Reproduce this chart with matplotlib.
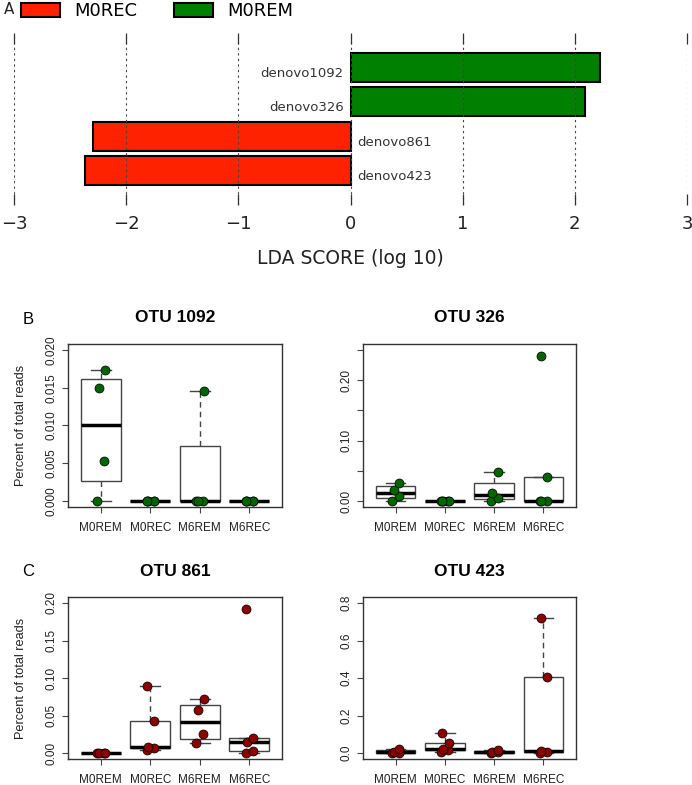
import numpy as np
import matplotlib
matplotlib.use('Agg')
import matplotlib.pyplot as plt
from matplotlib.patches import Patch

# Panel A: LDA scores (bottom to top)
otu_names = ['denovo423', 'denovo861', 'denovo326', 'denovo1092']
lda_scores = [-2.37, -2.30, 2.09, 2.22]
lda_groups = ['M0REC', 'M0REC', 'M0REM', 'M0REM']
legend_groups = ['M0REC', 'M0REM']
group_colors = {'M0REC': '#ff2200', 'M0REM': '#008000'}
lda_ticks = [-3, -2, -1, 0, 1, 2, 3]

# Panels B/C: percent of total reads per sample
box_groups = ['M0REM', 'M0REC', 'M6REM', 'M6REC']
otu1092 = [[0, 0.00534, 0.01492, 0.01735], [0, 0, 0, 0, 0],
           [0, 0, 0, 0.01452], [0, 0, 0, 0, 0]]
otu326 = [[0, 0.0083, 0.0183, 0.0299], [0, 0, 0, 0, 0],
          [0, 0.0056, 0.0132, 0.0476], [0, 0, 0, 0.0393, 0.240]]
otu861 = [[0, 0, 0.0003, 0.0006], [0.004, 0.007, 0.008, 0.043, 0.090],
          [0.013, 0.025, 0.057, 0.072], [0, 0.003, 0.015, 0.0195, 0.192]]
otu423 = [[0, 0.002, 0.008, 0.019], [0.007, 0.016, 0.021, 0.055, 0.105],
          [0, 0.004, 0.007, 0.014], [0, 0.005, 0.009, 0.403, 0.722]]

W, H = 692, 785
fig = plt.figure(figsize=(W / 100, H / 100), dpi=100)

# ---------------- panel A ----------------
axA = fig.add_axes([14 / W, 1 - 205 / H, 673 / W, 172 / H])
ypos = np.arange(len(otu_names))
axA.barh(ypos, lda_scores, height=0.85,
         color=[group_colors[g] for g in lda_groups],
         edgecolor='black', linewidth=1.5, zorder=1)
for y, s, name in zip(ypos, lda_scores, otu_names):
    if s > 0:
        axA.text(-0.06, y - 0.17, name, ha='right', va='center', fontsize=9.5, color='#333')
    else:
        axA.text(0.06, y - 0.17, name, ha='left', va='center', fontsize=9.5, color='#333')
axA.set_xlim(-3, 3)
axA.set_ylim(-1, 4)
axA.set_xticks(lda_ticks)
axA.set_xticklabels([str(t).replace('-', '\u2212') for t in lda_ticks], fontsize=13, color='#222')
axA.set_yticks([])
for sp in axA.spines.values():
    sp.set_visible(False)
axA.tick_params(axis='x', direction='in', top=True, length=8, width=0.9, color='#333', pad=7)
axA.set_axisbelow(False)
axA.grid(axis='x', linestyle=(0, (2, 3)), linewidth=0.8, color='#444', zorder=3)
axA.set_xlabel('LDA SCORE (log 10)', fontsize=13.5, color='#222')
axA.xaxis.set_label_coords(0.5, -(259 - 205) / 172)
axA.xaxis.label.set_va('center')

fig.legend(handles=[Patch(facecolor=group_colors[g], edgecolor='black', linewidth=1.5, label=g)
                    for g in legend_groups],
           loc='upper left', bbox_to_anchor=(21 / W, 1 - 2 / H), ncol=2, frameon=False,
           fontsize=13, handlelength=2.17, handleheight=0.78, handletextpad=0.78,
           columnspacing=2.05, borderpad=0, borderaxespad=0)
fig.text(9 / W, 1 - 10 / H, 'A', fontsize=11, ha='center', va='center', color='#222')


# ---------------- panels B / C ----------------
def fivenum(v):
    v = np.sort(np.asarray(v, float))
    n = len(v)
    n4 = np.floor((n + 3) / 2) / 2
    d = np.array([1, n4, (n + 1) / 2, n + 1 - n4, n]) - 1
    return 0.5 * (v[np.floor(d).astype(int)] + v[np.ceil(d).astype(int)])


def r_box_stats(v):
    v = np.asarray(v, float)
    st = fivenum(v)
    iqr = st[3] - st[1]
    keep = v[(v >= st[1] - 1.5 * iqr) & (v <= st[3] + 1.5 * iqr)]
    return dict(med=st[2], q1=st[1], q3=st[3], whislo=keep.min(), whishi=keep.max(), fliers=[])


jit = [-0.07, 0.07, -0.04, 0.08, -0.06]
font = 'Liberation Sans'


def box_panel(rect, data, title, color, ymax, step, labels, ylabel):
    ax = fig.add_axes(rect)
    stats = [r_box_stats(d) for d in data]
    ax.bxp(stats, positions=range(1, len(data) + 1), widths=0.8, capwidths=0.4,
           showfliers=False, patch_artist=True,
           boxprops=dict(facecolor='white', edgecolor='#444', linewidth=1),
           medianprops=dict(color='black', linewidth=2.5),
           whiskerprops=dict(color='#444', linewidth=1, linestyle=(0, (4, 3))),
           capprops=dict(color='#444', linewidth=1), zorder=2)
    for i, d in enumerate(data):
        xs = [i + 1 + jit[k % len(jit)] for k in range(len(d))]
        ax.scatter(xs, sorted(d), s=42, color=color, edgecolors='black',
                   linewidths=0.5, zorder=3)
    ax.set_xlim(0.34, 4.66)
    ax.set_ylim(-0.04 * ymax, 1.04 * ymax)
    ticks = np.arange(0, ymax + step / 2, step)
    ax.set_yticks(ticks)
    ax.set_yticklabels(labels, rotation=90, va='center', ha='right',
                       fontsize=8.5, family=font, color='#222')
    ax.set_xticks(range(1, len(data) + 1))
    ax.set_xticklabels(box_groups, fontsize=8.5, family=font, color='#222')
    ax.tick_params(axis='y', length=4.3, width=0.8, color='#444', pad=3)
    ax.tick_params(axis='x', length=4.3, width=0.8, color='#444', pad=6.5)
    for sp in ax.spines.values():
        sp.set_color('#333')
        sp.set_linewidth(1)
    ax.text(0.5, 1 + 26 / 163, title, transform=ax.transAxes, ha='center', va='center',
            fontsize=12.5, fontweight='bold', family=font)
    if ylabel:
        ax.set_ylabel('Percent of total reads', fontsize=9.2, family=font, color='#222')
        ax.yaxis.set_label_coords(-41 / 214, 0.5)
    return ax


green, red = '#006400', '#8b0000'
top_b, top_h = 1 - 507 / H, 163 / H
bot_b, bot_h = 1 - 759 / H, 162 / H
lx, lw_ = 68 / W, 214 / W
rx, rw = 363 / W, 213 / W

box_panel([lx, top_b, lw_, top_h], otu1092, 'OTU 1092', green, 0.020, 0.005,
          ['0.000', '0.005', '0.010', '0.015', '0.020'], True)
box_panel([rx, top_b, rw, top_h], otu326, 'OTU 326', green, 0.25, 0.05,
          ['0.00', '', '0.10', '', '0.20', ''], False)
box_panel([lx, bot_b, lw_, bot_h], otu861, 'OTU 861', red, 0.20, 0.05,
          ['0.00', '0.05', '0.10', '0.15', '0.20'], True)
box_panel([rx, bot_b, rw, bot_h], otu423, 'OTU 423', red, 0.8, 0.2,
          ['0.0', '0.2', '0.4', '0.6', '0.8'], False)

fig.text(28 / W, 1 - 319 / H, 'B', fontsize=12, family=font, ha='center', va='center')
fig.text(28 / W, 1 - 571 / H, 'C', fontsize=12, family=font, ha='center', va='center')

fig.savefig('out.png', dpi=100)
